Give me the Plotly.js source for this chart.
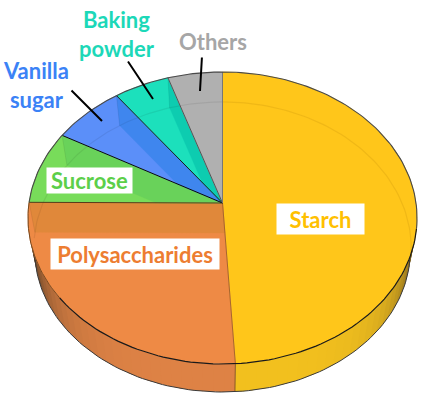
<!DOCTYPE html>
<html><head><meta charset="utf-8">
<script src="https://cdn.plot.ly/plotly-3.0.1.min.js"></script>
<style>html,body{margin:0;padding:0;background:#fff}#c{width:430px;height:400px}</style>
</head><body><div id="c"></div>
<script>
// Data (percent, clockwise from 12 o'clock)
const categories = ['Starch','Polysaccharides','Sucrose','Vanilla sugar','Baking powder','Others'];
const values = [49,26,8.1,6.7,5.1,5];
const topColors = ['#FFC61A','#EE8A45','#78DC5A','#5B8FF9','#1CE0BC','#B0B0B0'];
const facetColors = [null,'#E0883A','#69D25A','#3F86EE','#0DCCB0','#A9A9A9'];
const sideColors = ['#F2C01E','#DE8245','#78DC5A','#5B8FF9','#1CE0BC','#B0B0B0'];
const edgeColors = ['#777777','#A8662A','#5A3A1A','#0A0A0A','#1A1A1A','#555555'];

// Perspective model of the tilted disc (pixel-based axes)
const cx=222.5, cy=203, R=193.5, Rk=144.5, persp=0.1027, D=33.6, bs=0.965, shift=30, ins=0.97;
const rad=d=>d*Math.PI/180;
function pt(t){const s=1/(1+persp*Math.cos(rad(t)));return [cx+R*Math.sin(rad(t))*s, cy-Rk*Math.cos(rad(t))*s];}
function inner(t){const p=pt(t);return [cx+(p[0]-cx)*ins,p[1]+shift];}
function bottom(t){const p=pt(t);return [cx+(p[0]-cx)*bs,cy+(p[1]-cy)*bs+D];}
function arc(a,b,f,step=1.5){const o=[];const n=Math.max(2,Math.ceil(Math.abs(b-a)/step));for(let i=0;i<=n;i++)o.push(f(a+(b-a)*i/n));return o;}
const total=values.reduce((a,b)=>a+b,0);
const bounds=[0];values.forEach(v=>bounds.push(bounds[bounds.length-1]+v/total*360));
function hex(c){return [1,3,5].map(i=>parseInt(c.substr(i,2),16));}
function mix(c,t){const d=[70,50,30];const h=hex(c);return 'rgb('+h.map((v,i)=>Math.round(v*(1-t)+d[i]*t)).join(',')+')';}
function poly(pts,fill,line,w){return {type:'scatter',mode:'lines',x:pts.map(p=>p[0]),y:pts.map(p=>p[1]),fill:fill?'toself':'none',fillcolor:fill||undefined,line:{color:line||fill||'rgba(0,0,0,0)',width:w===undefined?0:w},hoverinfo:'skip',showlegend:false};}
function intersect(p,d,q,e){const det=d[0]*(-e[1])+e[0]*d[1];const u=q[0]-p[0],v=q[1]-p[1];const t=(u*(-e[1])+e[0]*v)/det;return [p[0]+d[0]*t,p[1]+d[1]*t];}

const traces=[];
const A=[cx,cy];
// side wall: strips overlap their neighbour so no seams show
categories.forEach((c,i)=>{
  const a=Math.max(bounds[i],62), b=Math.min(bounds[i+1],298);
  if(b<=a)return;
  const n=Math.ceil((b-a)/3);
  for(let k=0;k<n;k++){
    const t0=a+(b-a)*k/n,t1=a+(b-a)*(k+1)/n,tm=(t0+t1)/2;
    const te=Math.min(t1+1.5,b);
    const shade=Math.pow(Math.min(1,Math.abs(tm-178)/80),4);
    const col=mix(sideColors[i],shade);
    traces.push(poly(arc(t0,te,pt,1).concat(arc(te,t0,bottom,1)),col));
  }
});
// divider on the wall between Starch and Polysaccharides
traces.push(poly([pt(bounds[1]),bottom(bounds[1])],null,'#8a5a20',1));
traces.push(poly(arc(62,bounds[2],bottom,1.5),null,'#3a3a3a',1));
// top surface
categories.forEach((c,i)=>{
  const a=bounds[i],b=bounds[i+1];
  traces.push(poly([A].concat(arc(a,b,pt)),topColors[i],topColors[i],0.5));
  if(facetColors[i]){
    const V=pt(b),Vi=inner(b),S=pt(a);
    const X=intersect(Vi,[A[0]-V[0],A[1]-V[1]],A,[S[0]-A[0],S[1]-A[1]]);
    traces.push(poly([V,A,X,Vi],facetColors[i],facetColors[i],0.3));
    traces.push(poly([V,Vi],null,'rgba(0,0,0,0.07)',1));
  }
});
// inner bevel arc
traces.push(poly(arc(268,360,inner),null,'rgba(0,0,0,0.07)',1.2));
traces.push(poly(arc(0,101,inner),null,'rgba(160,110,0,0.16)',1.2));
// radial edges
categories.forEach((c,i)=>{traces.push(poly([A,pt(bounds[i+1]%360)],null,edgeColors[(i+1)%6],1));});
// outline
traces.push(poly(arc(bounds[5],360,pt).concat(arc(0,100,pt)),null,'#4a4a4a',1.1));
traces.push(poly(arc(100,232,pt),null,'#1a1a1a',1.2));
traces.push(poly(arc(232,bounds[2],pt),null,'#7a4a20',1));
traces.push(poly(arc(bounds[2],bounds[5],pt),null,'#4a4a4a',1.1));

const font=(col,size)=>({family:'Lato, sans-serif',size:size||22,color:col,weight:700});
function boxed(text,x,y,w,h,col){return {xref:'x',yref:'y',x:x,y:y,text:'<b>'+text+'</b>',showarrow:false,width:w,height:h,bgcolor:'#fff',font:font(col),borderpad:0,xanchor:'center',yanchor:'middle',align:'center',valign:'middle'};}
function plain(text,x,y,col){return {xref:'x',yref:'y',x:x,y:y,text:'<b>'+text+'</b>',showarrow:false,borderpad:0,font:font(col),xanchor:'center',yanchor:'middle',align:'center'};}
function leader(x0,y0,x1,y1){return {xref:'x',yref:'y',axref:'x',ayref:'y',x:x1,y:y1,ax:x0,ay:y0,text:'',showarrow:true,arrowhead:0,arrowwidth:2,arrowcolor:'#000',standoff:0,startstandoff:0};}
const annotations=[
  leader(70,89,102,121),leader(127,60,153,99),leader(202,56,200,91),
  boxed('Starch',320.5,219,87,30,'#FFC000'),
  boxed('Polysaccharides',135,254,168,30,'#ED7D31'),
  boxed('Sucrose',89.5,180.5,85,25,'#5CCF4A'),
  plain('Baking<br>powder',117,34,'#1CD8B8'),
  plain('Others',213,41,'#A6A6A6'),
  plain('Vanilla<br>sugar',36,85,'#3B82F6')
];
Plotly.newPlot('c',traces,{
  width:430,height:400,margin:{l:0,r:0,t:0,b:0},paper_bgcolor:'#fff',plot_bgcolor:'#fff',showlegend:false,
  xaxis:{range:[0,430],visible:false,fixedrange:true},
  yaxis:{range:[400,0],visible:false,fixedrange:true},
  annotations:annotations
},{displayModeBar:false,staticPlot:true});
</script></body></html>
